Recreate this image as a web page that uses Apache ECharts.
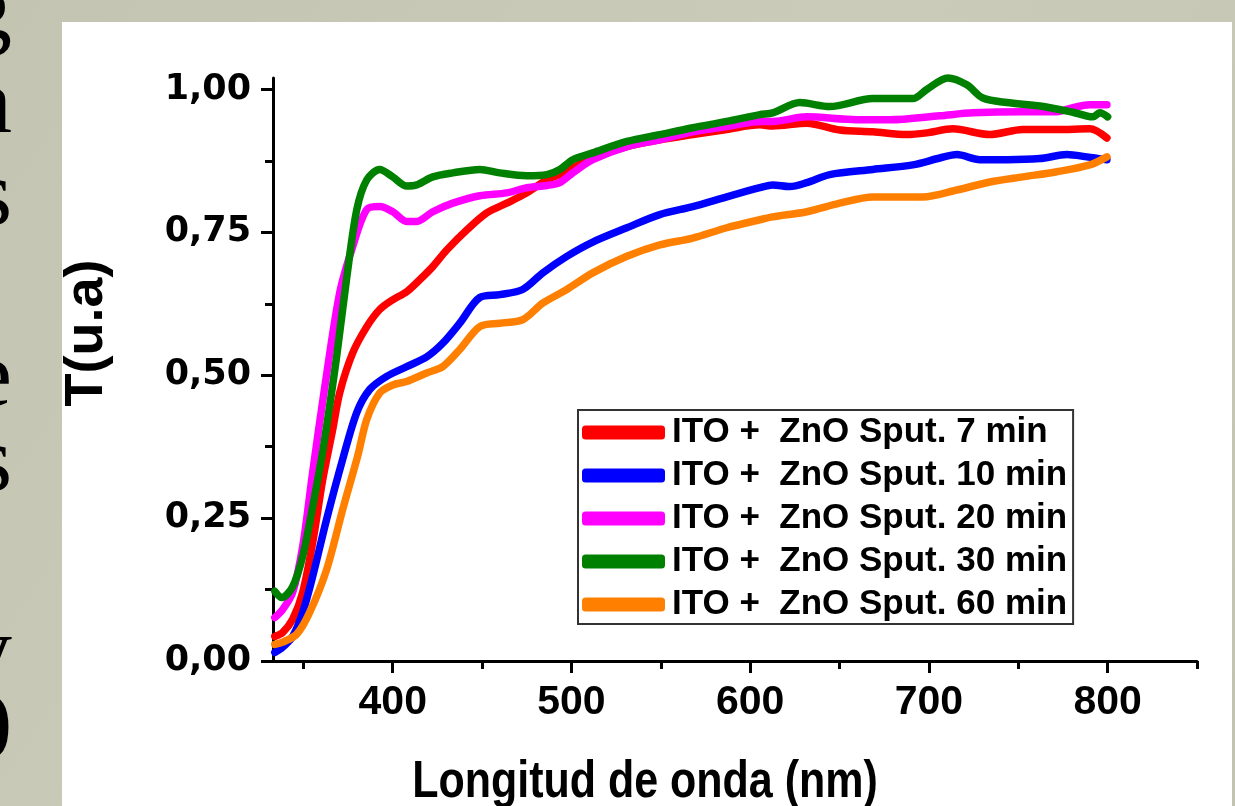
<!DOCTYPE html>
<html>
<head>
<meta charset="utf-8">
<script src="https://cdn.jsdelivr.net/npm/echarts@6/dist/echarts.min.js"></script>
<style>
html,body{margin:0;padding:0;background:#c5c6b4;}
#chart{width:1235px;height:806px;}
</style>
</head>
<body>
<div id="chart"></div>
<script>
// ---- data (wavelength nm, transmittance) ----
const legendNames = ['ITO +  ZnO Sput. 7 min','ITO +  ZnO Sput. 10 min','ITO +  ZnO Sput. 20 min','ITO +  ZnO Sput. 30 min','ITO +  ZnO Sput. 60 min'];
const seriesColors = ['#ff0000','#0000ff','#ff00ff','#008000','#ff8000'];
const xTicks = [400,500,600,700,800];
const xMinorTicks = [350,450,550,650,750,850];
const yTicks = [0,0.25,0.5,0.75,1.0];
const yMinorTicks = [0.125,0.375,0.625,0.875];
const sideLetters = ['g','a','s','e','s','y','0'];

const sput7 = [[334,0.043],[338.4,0.05],[344,0.073],[349.6,0.12],[355.2,0.207],[360.8,0.317],[366.4,0.405],[370.3,0.469],[377.6,0.539],[385.5,0.585],[392.7,0.615],[400,0.632],[407.8,0.646],[415.1,0.667],[422.4,0.69],[430.2,0.719],[441.4,0.754],[452.6,0.784],[463.8,0.801],[475,0.819],[486.2,0.842],[493.5,0.851],[500.7,0.863],[511.9,0.88],[531,0.9],[549.4,0.912],[567.9,0.921],[586.9,0.93],[605.4,0.938],[612.6,0.936],[631.7,0.941],[650.1,0.929],[668.6,0.926],[687.6,0.921],[698.8,0.924],[713.4,0.931],[734.1,0.921],[752.5,0.93],[771.6,0.93],[790,0.931],[799.6,0.915]];
const sput10 = [[334,0.015],[338.4,0.024],[344,0.043],[349.6,0.085],[355.2,0.148],[363,0.248],[372,0.353],[379.9,0.435],[387.1,0.475],[396.6,0.498],[407.8,0.515],[419,0.532],[428,0.556],[437.5,0.591],[448.7,0.636],[459.9,0.641],[472.7,0.65],[483.9,0.679],[497.4,0.708],[511.9,0.733],[531,0.758],[549.4,0.781],[567.9,0.795],[586.9,0.812],[605.4,0.828],[612.6,0.833],[622.2,0.83],[631.7,0.837],[644.5,0.851],[668.6,0.86],[691,0.868],[706.1,0.88],[715.6,0.886],[728.5,0.877],[743.6,0.877],[762.1,0.879],[777.2,0.886],[788.4,0.882],[799.6,0.877]];
const sput20 = [[334,0.076],[338.4,0.09],[344,0.12],[349.6,0.2],[355.2,0.33],[362,0.48],[370.3,0.644],[377.6,0.725],[385.5,0.79],[392.7,0.795],[400,0.786],[407.8,0.769],[413.4,0.769],[422.4,0.786],[433.6,0.801],[448.7,0.814],[463.8,0.819],[475,0.828],[486.2,0.832],[493.5,0.837],[500.7,0.854],[511.9,0.877],[531,0.9],[549.4,0.912],[567.9,0.926],[586.9,0.935],[605.4,0.944],[612.6,0.944],[631.7,0.952],[659.6,0.947],[678.1,0.947],[706.1,0.954],[724.6,0.959],[752.5,0.961],[771.6,0.961],[780.5,0.968],[790,0.973],[799.6,0.973]];
const sput30 = [[334,0.122],[338,0.111],[344,0.13],[349.6,0.183],[355.2,0.27],[361,0.37],[368.5,0.53],[374.3,0.672],[379.9,0.79],[385.5,0.842],[392.7,0.86],[400,0.847],[407.8,0.831],[413.4,0.833],[422.4,0.847],[433.6,0.854],[448.7,0.86],[459.9,0.854],[475,0.849],[486.2,0.851],[493.5,0.86],[500.7,0.877],[511.9,0.889],[531,0.909],[549.4,0.921],[567.9,0.933],[586.9,0.944],[605.4,0.956],[612.6,0.959],[627.8,0.977],[644.5,0.97],[668.6,0.984],[691,0.984],[698.8,1.0],[710.6,1.02],[721.2,1.008],[730.2,0.985],[743.6,0.977],[762.1,0.971],[780.5,0.96],[791.7,0.952],[795.6,0.959],[800,0.952]];
const sput60 = [[334,0.029],[338.4,0.033],[346.3,0.047],[353.5,0.085],[363,0.16],[372,0.265],[380.5,0.36],[385.5,0.423],[392.7,0.469],[400,0.483],[407.8,0.489],[419,0.504],[428,0.515],[437.5,0.545],[448.7,0.585],[459.9,0.591],[472.7,0.597],[483.9,0.626],[497.4,0.65],[511.9,0.679],[531,0.708],[549.4,0.728],[567.9,0.74],[586.9,0.758],[605.4,0.772],[612.6,0.777],[631.7,0.786],[650.1,0.801],[668.6,0.812],[696.6,0.812],[715.6,0.824],[734.1,0.838],[752.5,0.847],[771.6,0.856],[790,0.868],[799.6,0.882]];
const allSeries = [sput7, sput10, sput20, sput30, sput60];

// ---- chart ----
const chart = echarts.init(document.getElementById('chart'), null, {renderer:'canvas'});
const FONT = 'Liberation Sans';
const letterY = [12,107,199,380,465,655,732];

const graphics = [
  {type:'rect', z:-10, shape:{x:62,y:22,width:1170,height:790}, style:{fill:'#ffffff'}},
  {type:'text', x:645, y:783, scaleY:1.22, style:{text:'Longitud de onda (nm)', font:'bold 43px "Liberation Sans"', align:'center', verticalAlign:'middle', fill:'#000'}},
  {type:'text', x:87, y:333, rotation:Math.PI/2, style:{text:'T(u.a)', font:'bold 54px "Liberation Sans"', align:'center', verticalAlign:'middle', fill:'#000'}}
];
sideLetters.forEach((ch,i)=>{
  graphics.push({type:'text', x:12, y:letterY[i], style:{text:ch, font:'94px "Liberation Serif"', align:'right', verticalAlign:'middle', fill:'#000'}});
});

const gridRect = {left:273, right:38, top:78, bottom:145};
const fmtY = v => v.toFixed(2).replace('.', ',');

const option = {
  backgroundColor: {type:'linear', x:0, y:0, x2:1, y2:1, colorStops:[{offset:0,color:'#c3c4b1'},{offset:0.5,color:'#cacbb9'},{offset:1,color:'#c2c3b0'}]},
  animation:false,
  graphic: graphics,
  grid:[Object.assign({}, gridRect), Object.assign({}, gridRect)],
  xAxis:[
    {type:'value', gridIndex:0, min:333, max:850,
     axisLine:{show:true, onZero:false, lineStyle:{color:'#000', width:3}},
     axisTick:{show:true, length:12, lineStyle:{color:'#000', width:3}, customValues:xTicks},
     axisLabel:{show:true, margin:21, customValues:xTicks, color:'#000', fontFamily:FONT, fontWeight:'bold', fontSize:41},
     splitLine:{show:false}},
    {type:'value', gridIndex:1, min:333, max:850,
     axisLine:{show:false},
     axisTick:{show:true, length:8, lineStyle:{color:'#000', width:3}, customValues:xMinorTicks},
     axisLabel:{show:false}, splitLine:{show:false}}
  ],
  yAxis:[
    {type:'value', gridIndex:0, min:0, max:1.02,
     axisLine:{show:true, onZero:false, lineStyle:{color:'#000', width:3}},
     axisTick:{show:true, length:12, lineStyle:{color:'#000', width:3}, customValues:yTicks},
     axisLabel:{show:true, margin:22, customValues:yTicks, formatter:fmtY, color:'#000', fontFamily:'DejaVu Sans', fontWeight:'bold', fontSize:35},
     splitLine:{show:false}},
    {type:'value', gridIndex:1, min:0, max:1.02,
     axisLine:{show:false},
     axisTick:{show:true, length:8, lineStyle:{color:'#000', width:3}, customValues:yMinorTicks},
     axisLabel:{show:false}, splitLine:{show:false}}
  ],
  legend:{
    orient:'vertical', left:578, top:410,
    padding:[5,6,2,4], itemWidth:83, itemHeight:14, itemGap:8,
    borderColor:'#333', borderWidth:2, backgroundColor:'#fff',
    icon:'roundRect',
    data: legendNames,
    textStyle:{fontFamily:FONT, fontWeight:'bold', fontSize:35, color:'#000', lineHeight:33, padding:[0,0,0,2]}
  },
  series: allSeries.map((d,i)=>({
    name: legendNames[i], type:'line', data:d, xAxisIndex:0, yAxisIndex:0,
    smooth:0.3, showSymbol:false, symbol:'none', clip:false,
    color: seriesColors[i],
    lineStyle:{width:7.5, color:seriesColors[i], cap:'round', join:'round'}
  }))
};
chart.setOption(option);
</script>
</body>
</html>
